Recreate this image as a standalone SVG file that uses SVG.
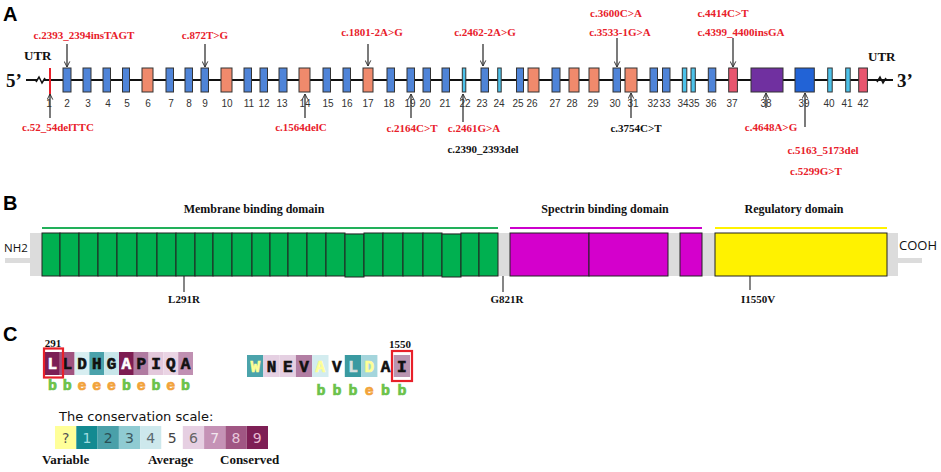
<svg xmlns="http://www.w3.org/2000/svg" width="941" height="472" viewBox="0 0 941 472">
<style>
.pl{font-family:"Liberation Sans",Arial,sans-serif;font-weight:bold;font-size:20px;fill:#000}
.mr{font-family:"Liberation Serif","Times New Roman",serif;font-weight:bold;font-size:11px;fill:#e8202a;text-anchor:middle}
.mk{font-family:"Liberation Serif","Times New Roman",serif;font-weight:bold;font-size:11px;fill:#111;text-anchor:middle}
.num{font-family:"Liberation Sans",Arial,sans-serif;font-size:10px;fill:#333;text-anchor:middle}
.utr{font-family:"Liberation Serif","Times New Roman",serif;font-weight:bold;font-size:13px;fill:#111}
.end{font-family:"Liberation Serif","Times New Roman",serif;font-weight:bold;font-size:19px;fill:#111}
.ex{stroke:#333;stroke-width:1}
.bl{fill:#4f84d8}.sa{fill:#f08a6c}.cy{fill:#4cc2ea}.pk{fill:#e8566f}.pu{fill:#7030a0}.db{fill:#2263d6}
.arr{stroke:#333;stroke-width:1.3;fill:none;marker-end:url(#ah)}
.dom{font-family:"Liberation Serif","Times New Roman",serif;font-weight:bold;font-size:12px;fill:#111;text-anchor:middle}
.term{font-family:"Open Sans","DejaVu Sans",sans-serif;font-size:13px;fill:#111}
.gb{fill:#00b050;stroke:#222;stroke-width:1}
.mg{fill:#d400cc;stroke:#222;stroke-width:1}
.yw{fill:#fff200;stroke:#222;stroke-width:1}
.tick{stroke:#444;stroke-width:1.3}
.sq{font-family:"Liberation Mono","Courier New",monospace;font-weight:bold;font-size:16px;text-anchor:middle;fill:#111;stroke:#111;stroke-width:0.6}
.sw{fill:#fff;stroke:#fff}
.sy{fill:#ffff96;stroke:#ffff96}
.sl{fill:#d8e0e0;stroke:#d8e0e0}
.ss{font-family:"Liberation Mono","Courier New",monospace;font-weight:bold;font-size:15px;text-anchor:middle;stroke-width:0.7}
.sb{fill:#6cc24a;stroke:#6cc24a}.se{fill:#f2a33a;stroke:#f2a33a}
.sc{font-family:"DejaVu Sans",Verdana,sans-serif;font-size:14px;text-anchor:middle}
.scl{font-family:"DejaVu Sans",Verdana,sans-serif;font-size:13px;fill:#111}
.lg{font-family:"Liberation Serif","Times New Roman",serif;font-weight:bold;font-size:13px;fill:#111}
</style>
<defs>
<marker id="ah" viewBox="0 0 10 10" refX="9" refY="5" markerWidth="7" markerHeight="7" orient="auto" markerUnits="userSpaceOnUse">
<path d="M1,1 L9,5 L1,9" fill="none" stroke="#333" stroke-width="1.4"/>
</marker>
</defs>

<!-- Panel A -->
<g id="panelA">
<text class="pl" x="3" y="21">A</text>
<text class="utr" x="24" y="60">UTR</text>
<text class="utr" x="868" y="61">UTR</text>
<text class="end" x="6" y="87">5’</text>
<text class="end" x="897" y="87">3’</text>
<g id="backbone">
<path d="M26,80 L37,80 M44,80 L893,80" stroke="#111" stroke-width="2.2" fill="none"/>
<path d="M36,82 L39,77 L42,83 L45,78" stroke="#111" stroke-width="1.5" fill="none"/>
<path d="M877,82 L880,77 L883,83 L886,78" stroke="#111" stroke-width="1.5" fill="none"/>
</g>
<g id="exons">
<line x1="50" y1="68" x2="50" y2="96" stroke="#e8202a" stroke-width="2"/>
<rect class="ex bl" x="63" y="68" width="8" height="24"/>
<rect class="ex bl" x="83" y="68" width="8" height="24"/>
<rect class="ex bl" x="103" y="68" width="7.5" height="24"/>
<rect class="ex bl" x="122.5" y="68" width="7" height="24"/>
<rect class="ex sa" x="142" y="68" width="11" height="24"/>
<rect class="ex bl" x="166" y="68" width="7.5" height="24"/>
<rect class="ex bl" x="185" y="68" width="7.5" height="24"/>
<rect class="ex bl" x="201" y="68" width="7.5" height="24"/>
<rect class="ex sa" x="221" y="68" width="11" height="24"/>
<rect class="ex bl" x="244" y="68" width="7.5" height="24"/>
<rect class="ex bl" x="260" y="68" width="7.5" height="24"/>
<rect class="ex bl" x="279" y="68" width="8" height="24"/>
<rect class="ex sa" x="299" y="68" width="11" height="24"/>
<rect class="ex bl" x="323" y="68" width="7.5" height="24"/>
<rect class="ex bl" x="343" y="68" width="7.5" height="24"/>
<rect class="ex sa" x="363" y="68" width="10" height="24"/>
<rect class="ex bl" x="387" y="68" width="7.5" height="24"/>
<rect class="ex bl" x="407" y="68" width="7.5" height="24"/>
<rect class="ex bl" x="423" y="68" width="7.5" height="24"/>
<rect class="ex bl" x="442" y="68" width="7.5" height="24"/>
<rect class="ex cy" x="462.3" y="68" width="3.5" height="24"/>
<rect class="ex bl" x="481" y="68" width="7.5" height="24"/>
<rect class="ex cy" x="497.7" y="68" width="3.5" height="24"/>
<rect class="ex bl" x="516.5" y="68" width="7" height="24"/>
<rect class="ex sa" x="528" y="68" width="11" height="24"/>
<rect class="ex bl" x="552" y="68" width="8" height="24"/>
<rect class="ex sa" x="569" y="68" width="10" height="24"/>
<rect class="ex sa" x="589" y="68" width="10" height="24"/>
<rect class="ex bl" x="613" y="68" width="7.5" height="24"/>
<rect class="ex sa" x="625" y="68" width="12" height="24"/>
<rect class="ex bl" x="650" y="68" width="7.5" height="24"/>
<rect class="ex bl" x="662.5" y="68" width="7.5" height="24"/>
<rect class="ex cy" x="682.3" y="68" width="4.5" height="24"/>
<rect class="ex cy" x="691" y="68" width="4.3" height="24"/>
<rect class="ex bl" x="708.3" y="68" width="7.5" height="24"/>
<rect class="ex pk" x="728.7" y="68" width="8.7" height="24"/>
<rect class="ex pu" x="751" y="68" width="32" height="24"/>
<rect class="ex db" x="795" y="68" width="19.3" height="24"/>
<rect class="ex cy" x="827.7" y="68" width="4.5" height="24"/>
<rect class="ex cy" x="845.7" y="68" width="4.5" height="24"/>
<rect class="ex pk" x="858.7" y="68" width="8.7" height="24"/>
</g>
<g id="exon-numbers">
<text class="num" x="49" y="107">1</text>
<text class="num" x="67" y="107">2</text>
<text class="num" x="88" y="107">3</text>
<text class="num" x="108" y="107">4</text>
<text class="num" x="127" y="107">5</text>
<text class="num" x="148" y="107">6</text>
<text class="num" x="171" y="107">7</text>
<text class="num" x="189" y="107">8</text>
<text class="num" x="205" y="107">9</text>
<text class="num" x="227" y="107">10</text>
<text class="num" x="249" y="107">11</text>
<text class="num" x="264" y="107">12</text>
<text class="num" x="282" y="107">13</text>
<text class="num" x="305" y="107">14</text>
<text class="num" x="328" y="107">15</text>
<text class="num" x="347" y="107">16</text>
<text class="num" x="368" y="107">17</text>
<text class="num" x="389" y="107">18</text>
<text class="num" x="410" y="107">19</text>
<text class="num" x="425" y="107">20</text>
<text class="num" x="445" y="107">21</text>
<text class="num" x="465" y="107">22</text>
<text class="num" x="482" y="107">23</text>
<text class="num" x="499" y="107">24</text>
<text class="num" x="518" y="107">25</text>
<text class="num" x="532" y="107">26</text>
<text class="num" x="555" y="107">27</text>
<text class="num" x="572" y="107">28</text>
<text class="num" x="593" y="107">29</text>
<text class="num" x="615" y="107">30</text>
<text class="num" x="633" y="107">31</text>
<text class="num" x="653" y="107">32</text>
<text class="num" x="665" y="107">33</text>
<text class="num" x="683" y="107">34</text>
<text class="num" x="694" y="107">35</text>
<text class="num" x="711" y="107">36</text>
<text class="num" x="732" y="107">37</text>
<text class="num" x="766" y="107">38</text>
<text class="num" x="804" y="107">39</text>
<text class="num" x="829" y="107">40</text>
<text class="num" x="847" y="107">41</text>
<text class="num" x="863" y="107">42</text>
</g>
<g id="mutation-labels">
<text class="mr" x="84" y="39">c.2393_2394insTAGT</text>
<text class="mr" x="205" y="39">c.872T&gt;G</text>
<text class="mr" x="372" y="36">c.1801-2A&gt;G</text>
<text class="mr" x="485" y="36">c.2462-2A&gt;G</text>
<text class="mr" x="616" y="17">c.3600C&gt;A</text>
<text class="mr" x="620" y="36">c.3533-1G&gt;A</text>
<text class="mr" x="723" y="17">c.4414C&gt;T</text>
<text class="mr" x="741" y="36">c.4399_4400insGA</text>
<text class="mr" x="58" y="131">c.52_54delTTC</text>
<text class="mr" x="301" y="131">c.1564delC</text>
<text class="mr" x="412" y="132">c.2164C&gt;T</text>
<text class="mr" x="474" y="132">c.2461G&gt;A</text>
<text class="mk" x="483" y="153">c.2390_2393del</text>
<text class="mk" x="636" y="132">c.3754C&gt;T</text>
<text class="mr" x="771" y="131">c.4648A&gt;G</text>
<text class="mr" x="823" y="154">c.5163_5173del</text>
<text class="mr" x="816" y="175">c.5299G&gt;T</text>
</g>
</g>

<g id="connectors">
<line class="arr" x1="67" y1="44" x2="67" y2="67"/>
<line class="arr" x1="205" y1="44" x2="205" y2="67"/>
<line class="arr" x1="368" y1="44" x2="368" y2="66"/>
<line class="arr" x1="483" y1="44" x2="483" y2="66"/>
<line class="arr" x1="617" y1="38" x2="617" y2="67"/>
<line class="arr" x1="733" y1="38" x2="733" y2="67"/>
<line class="arr" x1="50" y1="118" x2="50" y2="94"/>
<line class="arr" x1="305" y1="118" x2="305" y2="94"/>
<line class="arr" x1="411" y1="118" x2="411" y2="94"/>
<line class="arr" x1="463" y1="122" x2="463" y2="94"/>
<line class="arr" x1="631" y1="118" x2="631" y2="93"/>
<line class="arr" x1="766" y1="108" x2="766" y2="93"/>
<line class="arr" x1="805" y1="127" x2="805" y2="93"/>
<line class="tick" x1="184" y1="262" x2="184" y2="292"/>
<line class="tick" x1="503" y1="262" x2="503" y2="292"/>
<line class="tick" x1="750" y1="262" x2="750" y2="290"/>
</g>

<!-- Panel B -->
<g id="panelB">
<text class="pl" x="3" y="210">B</text>
<text class="dom" x="254" y="213">Membrane binding domain</text>
<text class="dom" x="605" y="213">Spectrin binding domain</text>
<text class="dom" x="794" y="213">Regulatory domain</text>
<line x1="42" y1="228" x2="498" y2="228" stroke="#22b05a" stroke-width="2"/>
<line x1="510" y1="228" x2="702" y2="228" stroke="#cc00cc" stroke-width="2"/>
<line x1="715" y1="228" x2="887" y2="228" stroke="#fff200" stroke-width="2"/>
<text class="term" x="4" y="252" font-size="11.5" style="font-size:11.5px">NH2</text>
<text class="term" x="899" y="250">COOH</text>
<g id="protein-backbone" fill="#dcdcdc">
<rect x="5" y="258" width="27" height="5"/>
<rect x="30" y="233" width="868" height="43"/>
<rect x="896" y="258" width="26" height="5"/>
</g>
<g id="membrane-domain">
<rect class="gb" x="42" y="233" width="18" height="43"/>
<rect class="gb" x="60" y="233" width="19" height="43"/>
<rect class="gb" x="79" y="233" width="19" height="43"/>
<rect class="gb" x="98" y="233" width="19" height="43"/>
<rect class="gb" x="117" y="233" width="20" height="43"/>
<rect class="gb" x="137" y="233" width="20" height="43"/>
<rect class="gb" x="157" y="233" width="19" height="43"/>
<rect class="gb" x="176" y="233" width="19" height="43"/>
<rect class="gb" x="195" y="233" width="18" height="43"/>
<rect class="gb" x="213" y="233" width="19" height="43"/>
<rect class="gb" x="232" y="233" width="20" height="43"/>
<rect class="gb" x="252" y="233" width="18" height="43"/>
<rect class="gb" x="270" y="233" width="18" height="43"/>
<rect class="gb" x="288" y="233" width="19" height="43"/>
<rect class="gb" x="307" y="233" width="19" height="43"/>
<rect class="gb" x="326" y="233" width="19" height="43"/>
<rect class="gb" x="345" y="234" width="19" height="43"/>
<rect class="gb" x="364" y="233" width="19" height="43"/>
<rect class="gb" x="383" y="233" width="20" height="43"/>
<rect class="gb" x="403" y="233" width="20" height="43"/>
<rect class="gb" x="423" y="233" width="19" height="43"/>
<rect class="gb" x="442" y="234" width="19" height="43"/>
<rect class="gb" x="461" y="233" width="18" height="43"/>
<rect class="gb" x="479" y="233" width="19" height="43"/>
</g>
<g id="spectrin-domain">
<rect class="mg" x="510" y="233" width="79" height="43"/>
<rect class="mg" x="589" y="233" width="79" height="43"/>
<rect class="mg" x="680" y="233" width="22" height="43"/>
</g>
<g id="regulatory-domain">
<rect class="yw" x="715" y="233" width="172" height="43"/>
</g>
<text class="mk" x="184" y="303">L291R</text>
<text class="mk" x="507" y="303">G821R</text>
<text class="mk" x="758" y="303">I1550V</text>
</g>

<!-- Panel C -->
<g id="panelC">
<text class="pl" x="3" y="341">C</text>
<text class="mk" x="53" y="347" font-size="12">291</text>
<g id="seq1">
<rect x="45" y="352" width="14.8" height="23" fill="#7b1f55"/>
<rect x="59.8" y="352" width="14.8" height="23" fill="#a0537f"/>
<rect x="74.6" y="352" width="14.8" height="23" fill="#d7eef1"/>
<rect x="89.4" y="352" width="14.8" height="23" fill="#4aa2ab"/>
<rect x="104.2" y="352" width="14.8" height="23" fill="#c8e6ea"/>
<rect x="119" y="352" width="14.8" height="23" fill="#7d1d52"/>
<rect x="133.8" y="352" width="14.8" height="23" fill="#b07ba1"/>
<rect x="148.6" y="352" width="14.8" height="23" fill="#e3c8db"/>
<rect x="163.4" y="352" width="14.8" height="23" fill="#ead4e4"/>
<rect x="178.2" y="352" width="14.8" height="23" fill="#c090b2"/>
<text class="sq sw" x="52.4" y="368.5">L</text>
<text class="sq" x="67.2" y="368.5">L</text>
<text class="sq" x="82" y="368.5">D</text>
<text class="sq" x="96.8" y="368.5">H</text>
<text class="sq" x="111.6" y="368.5">G</text>
<text class="sq sw" x="126.4" y="368.5">A</text>
<text class="sq" x="141.2" y="368.5">P</text>
<text class="sq" x="156" y="368.5">I</text>
<text class="sq" x="170.8" y="368.5">Q</text>
<text class="sq" x="185.6" y="368.5">A</text>
<rect x="44" y="348.5" width="19" height="29" fill="none" stroke="#e8202a" stroke-width="2.2"/>
<text class="ss sb" x="52.4" y="390">b</text>
<text class="ss sb" x="67.2" y="390">b</text>
<text class="ss se" x="82" y="390">e</text>
<text class="ss se" x="96.8" y="390">e</text>
<text class="ss se" x="111.6" y="390">e</text>
<text class="ss sb" x="126.4" y="390">b</text>
<text class="ss se" x="141.2" y="390">e</text>
<text class="ss sb" x="156" y="390">b</text>
<text class="ss se" x="170.8" y="390">e</text>
<text class="ss sb" x="185.6" y="390">b</text>
</g>
<text class="mk" x="400" y="348" font-size="12">1550</text>
<g id="seq2">
<rect x="247" y="355" width="16.3" height="22" fill="#4ba3ab"/>
<rect x="263.3" y="355" width="16.3" height="22" fill="#e5d0e2"/>
<rect x="279.6" y="355" width="16.3" height="22" fill="#e5d0e2"/>
<rect x="295.9" y="355" width="16.3" height="22" fill="#b27ea3"/>
<rect x="312.2" y="355" width="16.3" height="22" fill="#d3ecef"/>
<rect x="344.8" y="355" width="16.3" height="22" fill="#3a9aa1"/>
<rect x="361.1" y="355" width="16.3" height="22" fill="#a4d5dc"/>
<rect x="393.7" y="355" width="16.3" height="22" fill="#b994b0"/>
<text class="sq sy" x="255.2" y="371.5">W</text>
<text class="sq" x="271.5" y="371.5">N</text>
<text class="sq" x="287.8" y="371.5">E</text>
<text class="sq" x="304.1" y="371.5">V</text>
<text class="sq sy" x="320.4" y="371.5">A</text>
<text class="sq" x="336.7" y="371.5">V</text>
<text class="sq sl" x="353" y="371.5">L</text>
<text class="sq sy" x="369.3" y="371.5">D</text>
<text class="sq" x="385.6" y="371.5">A</text>
<text class="sq" x="401.9" y="371.5">I</text>
<rect x="392" y="351" width="20" height="30" fill="none" stroke="#e8202a" stroke-width="2.2"/>
<text class="ss sb" x="321" y="395">b</text>
<text class="ss sb" x="337" y="395">b</text>
<text class="ss sb" x="353" y="395">b</text>
<text class="ss se" x="369.3" y="395">e</text>
<text class="ss sb" x="385.6" y="395">b</text>
<text class="ss sb" x="401.9" y="395">b</text>
</g>
<g id="scale">
<text class="scl" x="59" y="421">The conservation scale:</text>
<rect x="55" y="426" width="21.3" height="23" fill="#ffff99"/>
<rect x="76.3" y="426" width="21.3" height="23" fill="#138a91"/>
<rect x="97.6" y="426" width="21.3" height="23" fill="#4aa0a9"/>
<rect x="118.9" y="426" width="21.3" height="23" fill="#8fcbd2"/>
<rect x="140.2" y="426" width="21.3" height="23" fill="#cde8ec"/>
<rect x="161.5" y="426" width="21.3" height="23" fill="#ffffff"/>
<rect x="182.8" y="426" width="21.3" height="23" fill="#e6cfe2"/>
<rect x="204.1" y="426" width="21.3" height="23" fill="#c592b6"/>
<rect x="225.4" y="426" width="21.3" height="23" fill="#a05683"/>
<rect x="246.7" y="426" width="21.3" height="23" fill="#7e1f55"/>
<text class="sc" x="65.6" y="443" fill="#555">?</text>
<text class="sc" x="86.9" y="443" fill="#9fdce0">1</text>
<text class="sc" x="108.2" y="443" fill="#2a4f55">2</text>
<text class="sc" x="129.5" y="443" fill="#3d5a60">3</text>
<text class="sc" x="150.8" y="443" fill="#5a6a70">4</text>
<text class="sc" x="172.1" y="443" fill="#444">5</text>
<text class="sc" x="193.4" y="443" fill="#666">6</text>
<text class="sc" x="214.7" y="443" fill="#f2e6ee">7</text>
<text class="sc" x="236" y="443" fill="#e8c8da">8</text>
<text class="sc" x="257.3" y="443" fill="#e8b8d0">9</text>
<text class="lg" x="42" y="464">Variable</text>
<text class="lg" x="148" y="464">Average</text>
<text class="lg" x="220" y="464">Conserved</text>
</g>
</g>
</svg>
